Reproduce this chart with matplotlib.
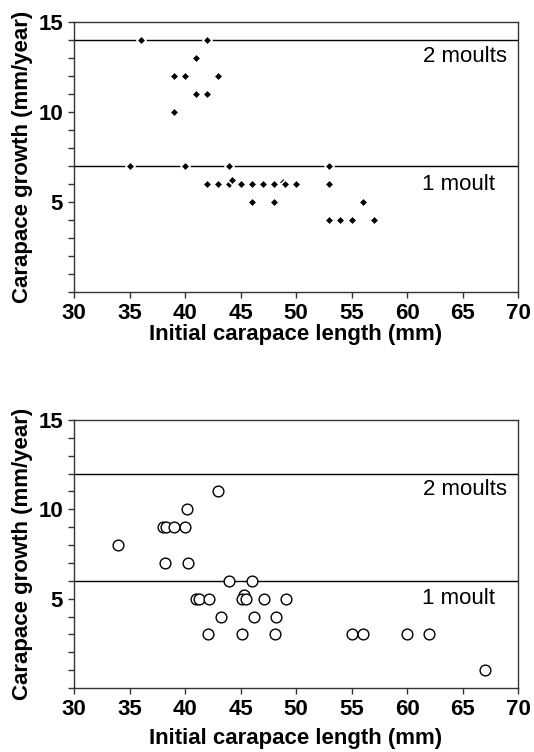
import matplotlib
matplotlib.use("Agg")
import matplotlib.pyplot as plt
from matplotlib.ticker import MultipleLocator

plt.rcParams['font.family'] = ['Liberation Sans', 'DejaVu Sans']

# top panel (filled diamonds)
top_x = [36, 42, 41, 39, 40, 43, 41, 42, 39,
         35, 40, 44, 53,
         42, 43, 44, 44.2, 45, 46, 47, 48, 48.8, 49, 50, 53,
         46, 48, 56,
         53, 54, 55, 57]
top_y = [14, 14, 13, 12, 12, 12, 11, 11, 10,
         7, 7, 7, 7,
         6, 6, 6, 6.2, 6, 6, 6, 6, 6.1, 6, 6, 6,
         5, 5, 5,
         4, 4, 4, 4]
top_lines = [14, 7]

# bottom panel (open circles)
bot_x = [43, 40.2, 38, 38.25, 39, 40, 34, 38.2, 40.3,
         44, 46, 45.3,
         41, 41.25, 42.2, 45.1, 45.5, 47.1, 49.1,
         43.2, 46.2, 48.2,
         42.1, 45.1, 48.1, 55, 56, 60, 62, 67]
bot_y = [11, 10, 9, 9, 9, 9, 8, 7, 7,
         6, 6, 5.2,
         5, 5, 5, 5, 5, 5, 5,
         4, 4, 4,
         3, 3, 3, 3, 3, 3, 3, 1]
bot_lines = [12, 6]

fig = plt.figure(figsize=(5.34, 7.52), dpi=100)
ax1 = fig.add_axes([0.1386, 0.6117, 0.8315, 0.359])
ax2 = fig.add_axes([0.1386, 0.0851, 0.8315, 0.3564])


def style(ax, xpad):
    ax.set_xlim(30, 70)
    ax.set_ylim(0, 15)
    ax.xaxis.set_major_locator(MultipleLocator(5))
    ax.yaxis.set_minor_locator(MultipleLocator(1))
    ax.set_yticks([5, 10, 15])
    ax.tick_params(axis='both', which='major', direction='out', length=4,
                   width=1, labelsize=16, color='#333333', pad=4)
    ax.tick_params(axis='y', which='minor', direction='out', length=4,
                   width=1, color='#333333')
    for lab in ax.get_xticklabels() + ax.get_yticklabels():
        lab.set_fontweight('bold')
    for sp in ax.spines.values():
        sp.set_color('#333333')
        sp.set_linewidth(1)
    ax.set_xlabel("Initial carapace length (mm)", fontsize=16,
                  fontweight='bold', labelpad=xpad)
    ax.set_ylabel("Carapace growth (mm/year)", fontsize=16,
                  fontweight='bold', labelpad=4)


style(ax1, 0)
style(ax2, 6)

for v in top_lines:
    ax1.axhline(v, color='black', lw=1, zorder=1)
ax1.scatter(top_x, top_y, marker='D', s=22, color='black',
            edgecolors='white', linewidths=1.2, zorder=3)
ax1.text(69, 13.1, "2 moults", ha='right', va='center', fontsize=16)
ax1.text(67.9, 6.0, "1 moult", ha='right', va='center', fontsize=16)

for v in bot_lines:
    ax2.axhline(v, color='black', lw=1, zorder=1)
ax2.scatter(bot_x, bot_y, marker='o', s=60, facecolors='white',
            edgecolors='black', linewidths=1, zorder=3)
ax2.text(69, 11.1, "2 moults", ha='right', va='center', fontsize=16)
ax2.text(67.9, 5.0, "1 moult", ha='right', va='center', fontsize=16)

fig.savefig("out.png", dpi=100)
